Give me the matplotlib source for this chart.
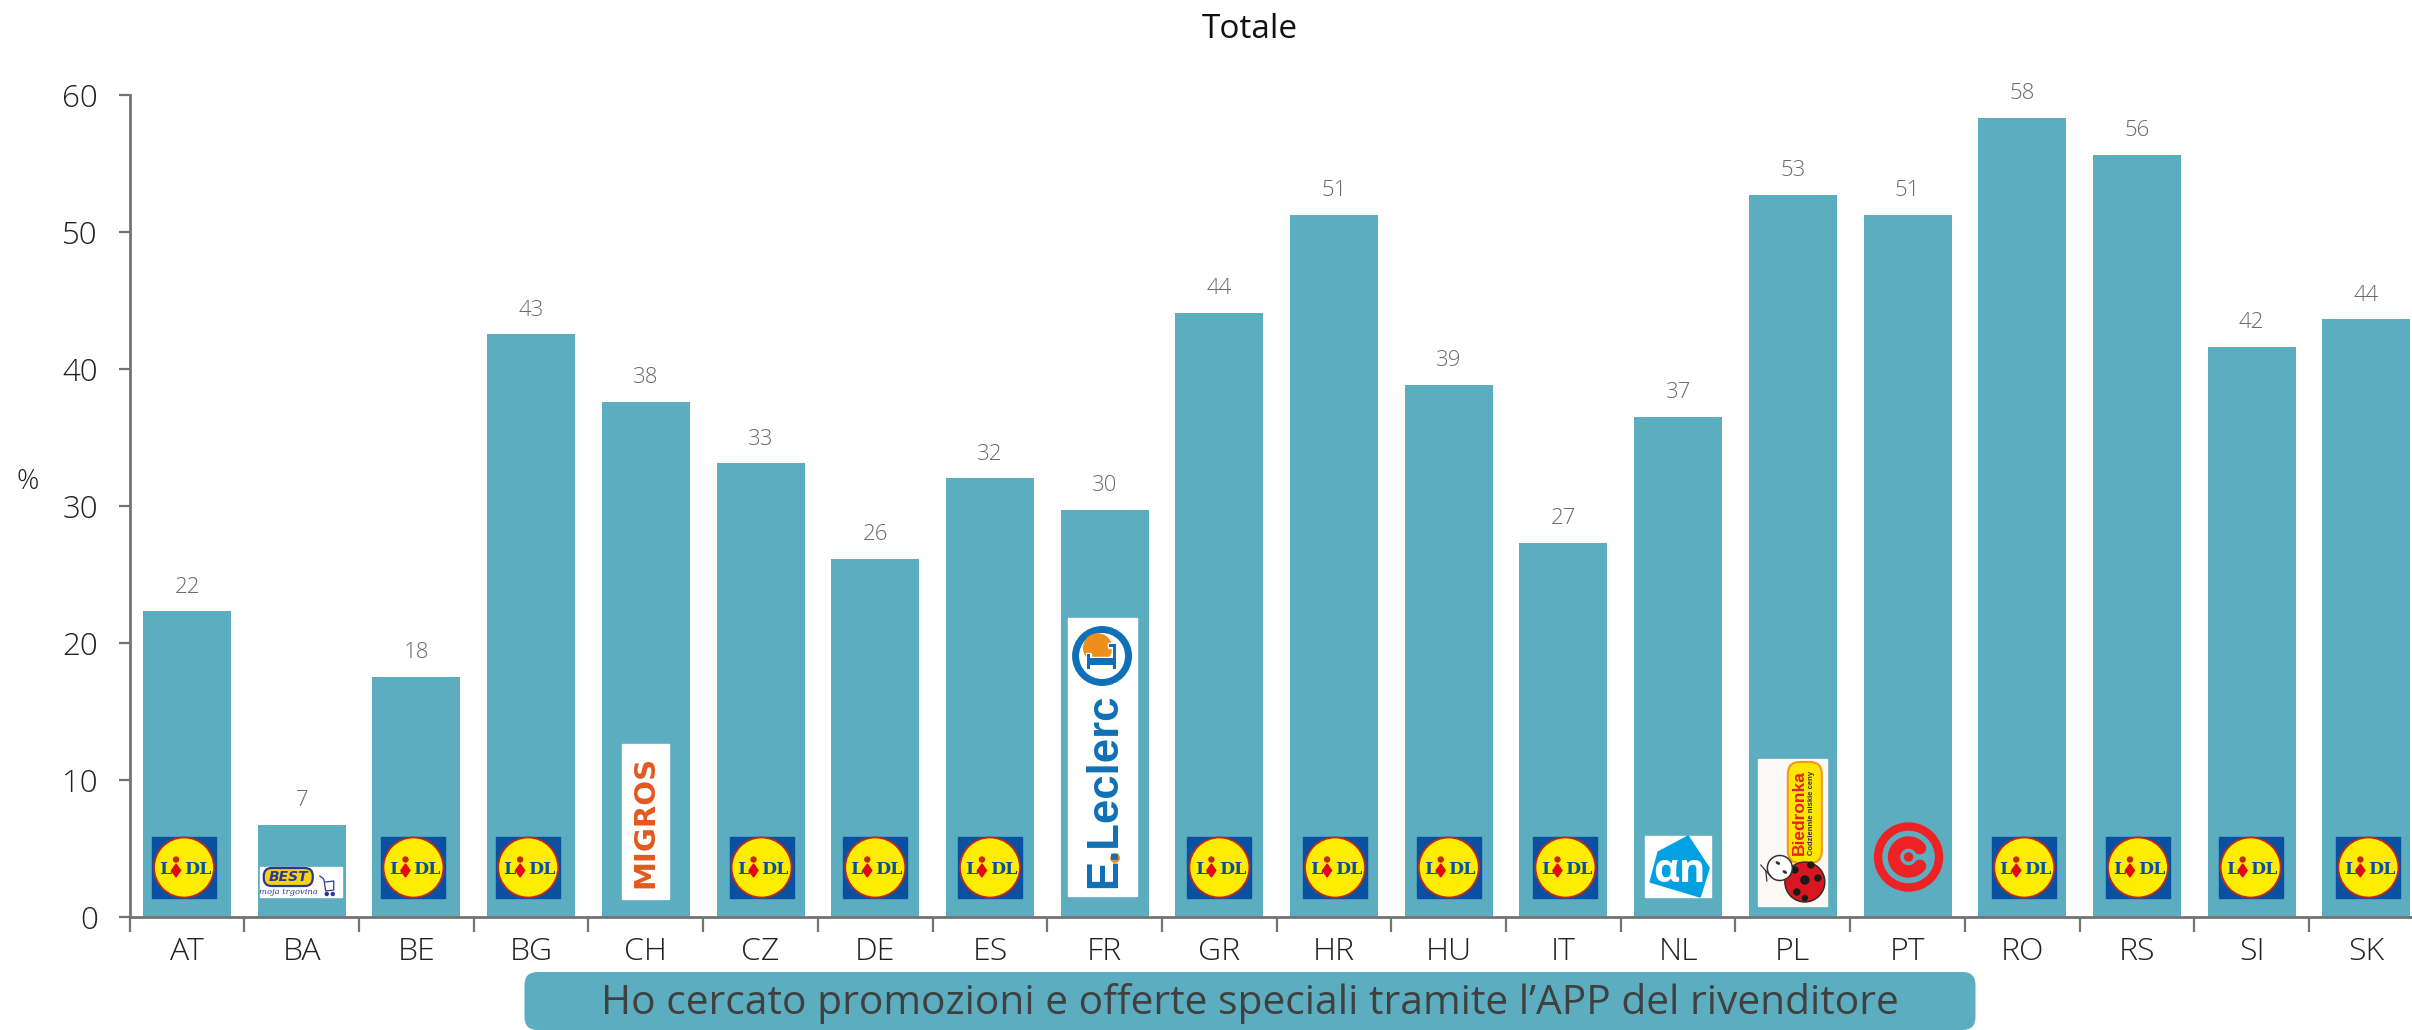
import matplotlib
matplotlib.use('Agg')
import matplotlib.pyplot as plt
import matplotlib.patheffects as pe
from matplotlib.patches import Rectangle, Ellipse, Circle, Wedge, Polygon, FancyBboxPatch
from matplotlib.transforms import Affine2D, IdentityTransform

plt.rcParams['font.family'] = ['Open Sans', 'DejaVu Sans']

countries = ['AT', 'BA', 'BE', 'BG', 'CH', 'CZ', 'DE', 'ES', 'FR', 'GR',
             'HR', 'HU', 'IT', 'NL', 'PL', 'PT', 'RO', 'RS', 'SI', 'SK']
values = [22.3, 6.7, 17.5, 42.5, 37.6, 33.1, 26.1, 32.0, 29.7, 44.1,
          51.2, 38.8, 27.3, 36.5, 52.7, 51.2, 58.3, 55.6, 41.6, 43.6]
value_labels = ['22', '7', '18', '43', '38', '33', '26', '32', '30', '44',
                '51', '39', '27', '37', '53', '51', '58', '56', '42', '44']
logos = ['lidl', 'best', 'lidl', 'lidl', 'migros', 'lidl', 'lidl', 'lidl', 'leclerc', 'lidl',
         'lidl', 'lidl', 'lidl', 'ah', 'biedronka', 'continente', 'lidl', 'lidl', 'lidl', 'lidl']
lidl_shift = [-3, 0, -3, -3, 0, 1, 0, 0, 0, 0, 1, 0, 2, 0, 0, 0, 2, 1, -1, 2]

title = 'Totale'
caption = 'Ho cercato promozioni e offerte speciali tramite l’APP del rivenditore'

TEAL = '#5badbf'
GREY = '#737373'
BLUE = '#0a50a1'
NAVY = '#2b3990'

W, H = 2412, 1030
fig = plt.figure(figsize=(W / 100, H / 100), dpi=100)
ax = fig.add_axes([129.7 / W, 113 / H, (W - 129.7) / W, 822.4 / H])

ax.bar(range(len(values)), values, width=0.767, color=TEAL)
ax.set_xlim(-0.5, 19.398)
ax.set_ylim(0, 60)

for s in ['top', 'right']:
    ax.spines[s].set_visible(False)
for s in ['left', 'bottom']:
    ax.spines[s].set_color(GREY)
    ax.spines[s].set_linewidth(2)

ax.set_yticks(range(0, 61, 10))
ax.tick_params(axis='y', length=8, width=1.6, color=GREY, pad=15, labelsize=22.5, labelcolor='#222222')
for t in ax.get_yticklabels():
    t.set_fontweight('light')

ax.set_xticks([i - 0.5 for i in range(len(values))])
ax.set_xticklabels([])
ax.set_xticks(range(len(values)), minor=True)
ax.set_xticklabels(countries, minor=True, fontsize=23, fontweight='light', color='#222222')
ax.tick_params(axis='x', which='major', length=11, width=1.6, color=GREY)
ax.tick_params(axis='x', which='minor', length=0, pad=14)

for i, v in enumerate(values):
    ax.annotate(value_labels[i], (i, v), xytext=(0, 17.5), textcoords='offset points',
                ha='center', va='center', fontsize=16, fontweight='light', color='#6a6a6a')


# logos are drawn in pixels, x from the bar centre and y up from the baseline
def anchor(i):
    return Affine2D().translate(*ax.transData.transform((i, 0)))


def draw_lidl(i):
    tr = anchor(i + lidl_shift[i] / 114.7)
    ax.add_patch(Rectangle((-32, 19), 64, 61, color=BLUE, transform=tr))
    ax.add_patch(Ellipse((0, 49.5), 60, 60, fc='#ffed00', ec='#c0281c', lw=1.3, transform=tr))
    kw = dict(transform=tr, family='DejaVu Serif', fontweight='bold', fontsize=12.5,
              color=BLUE, va='center_baseline')
    ax.text(-18.5, 49.5, 'L', ha='center', **kw)
    ax.text(13.5, 49.5, 'DL', ha='center', **kw)
    ax.add_patch(Polygon([(-8, 53), (-3.5, 46.5), (-8, 40), (-12.5, 46.5)], color='#e30613', transform=tr))
    ax.add_patch(Circle((-8, 57.5), 2.5, color='#c0281c', transform=tr))


def draw_best(i):
    tr = anchor(i)
    ax.add_patch(Rectangle((-42, 20), 82, 30, color='white', transform=tr))
    ax.add_patch(FancyBboxPatch((-30, 39), 33, 2, boxstyle='round,pad=8', fc='#f6d21a', ec=NAVY,
                                lw=1.6, transform=tr))
    ax.text(-13.5, 40, 'BEST', transform=tr, ha='center', va='center', fontsize=10,
            fontweight='bold', style='italic', color=NAVY, family='DejaVu Sans')
    ax.text(-13, 25, 'moja trgovina', transform=tr, ha='center', va='center', fontsize=6,
            style='italic', color=NAVY, family='DejaVu Serif')
    ax.plot([18, 22, 24, 32, 32, 24], [41, 38, 26, 27, 36, 35], color=NAVY, lw=0.9, transform=tr)
    ax.add_patch(Circle((25, 23), 1.5, color=NAVY, transform=tr))
    ax.add_patch(Circle((31, 23), 1.5, color=NAVY, transform=tr))


def draw_migros(i):
    tr = anchor(i)
    ax.add_patch(Rectangle((-24, 18), 47, 155, color='white', transform=tr))
    ax.text(0, 95.5, 'MIGROS', transform=tr, rotation=90, ha='center', va='center', fontsize=21,
            fontweight='bold', color='#e2591e', family='DejaVu Sans')


def draw_leclerc(i):
    tr = anchor(i)
    ax.add_patch(Rectangle((-36.6, 21), 69, 278, color='white', transform=tr))
    ax.add_patch(Circle((-2.6, 261), 26.5, fc='white', ec='#0f70b7', lw=5, transform=tr))
    ax.add_patch(Circle((-7, 269), 14, color='#ee8f1c', transform=tr))
    ax.text(0, 260, 'L', transform=tr, rotation=90, ha='center', va='center', fontsize=28,
            fontweight='bold', color='#0f70b7', family='DejaVu Serif',
            path_effects=[pe.withStroke(linewidth=2.5, foreground='white')])
    ax.text(0, 126.5, 'E.Leclerc', transform=tr, rotation=90, ha='center', va='center', fontsize=31.5,
            fontweight='bold', color='#0f70b7', family='Liberation Sans')
    ax.add_patch(Circle((10.4, 59), 4.2, color='#ee8f1c', transform=tr))


def draw_ah(i):
    tr = anchor(i)
    ax.add_patch(Rectangle((-33, 20), 66, 61, color='white', transform=tr))
    ax.add_patch(Polygon([(10, 81), (31, 49), (22, 20), (-28, 35), (-20, 65)],
                         closed=True, color='#00a0e2', transform=tr))
    ax.text(1, 50, 'αn', transform=tr, ha='center', va='center_baseline', fontsize=29,
            fontweight='bold', color='white', family='Open Sans')


def draw_biedronka(i):
    tr = anchor(i)
    ax.add_patch(Rectangle((-35, 11), 69, 147, color='#fbf8f6', transform=tr))
    ax.add_patch(FancyBboxPatch((7, 66), 10, 77, boxstyle='round,pad=12', fc='#ffe600',
                                ec='#f39a1e', lw=1.5, transform=tr))
    ax.text(7, 104, 'Biedronka', transform=tr, rotation=90, ha='center', va='center', fontsize=12.5,
            fontweight='bold', color='#e8202a', family='Liberation Sans')
    ax.text(19, 104, 'Codziennie niskie ceny', transform=tr, rotation=90, ha='center', va='center',
            fontsize=5.5, fontweight='bold', color='#333333', family='Liberation Sans')
    ax.add_patch(Circle((12, 35), 20, fc='#d9161f', ec='#2a2a2a', lw=1, transform=tr))
    for dx, dy, r in [(12, 37, 4), (25, 39, 3), (2, 47, 3), (18, 52, 3), (4, 25, 3), (12, 19, 2.5)]:
        ax.add_patch(Circle((dx, dy), r, color='#1a1a1a', transform=tr))
    ax.plot([-32, -27, -26], [52, 46, 36], color='#333333', lw=0.9, transform=tr)
    ax.plot([-27, -22], [46, 41], color='#333333', lw=0.9, transform=tr)
    ax.add_patch(Circle((-13, 49), 12.5, fc='white', ec='#333333', lw=1.1, transform=tr))
    ax.add_patch(Ellipse((-15, 54), 3.5, 1.5, angle=-30, color='#333333', transform=tr))
    ax.add_patch(Ellipse((-8, 45), 3.5, 1.5, angle=-30, color='#333333', transform=tr))


def draw_continente(i):
    tr = anchor(i)
    red = '#ee2125'
    ax.add_patch(Wedge((1, 60), 34, 0, 360, width=7, color=red, transform=tr))
    ax.add_patch(Wedge((1, 60), 20, 38, 322, width=11, color=red, transform=tr))
    ax.add_patch(Circle((12.4, 68.9), 5.5, color=red, transform=tr))
    ax.add_patch(Circle((12.4, 51.1), 5.5, color=red, transform=tr))
    ax.add_patch(Circle((1, 60), 4, color=red, transform=tr))


painters = {'lidl': draw_lidl, 'best': draw_best, 'migros': draw_migros, 'leclerc': draw_leclerc,
            'ah': draw_ah, 'biedronka': draw_biedronka, 'continente': draw_continente}
for i, name in enumerate(logos):
    painters[name](i)

fig.text(1250 / W, 1 - 30 / H, title, ha='center', va='center', fontsize=24, color='#111111')
fig.text(28 / W, 1 - 482 / H, '%', ha='center', va='center', fontsize=20, fontweight='light', color='#222222')

box = FancyBboxPatch((524.5, 0), 1451, 58, boxstyle='round,pad=0,rounding_size=13',
                     fc=TEAL, ec='none', transform=IdentityTransform())
fig.add_artist(box)
fig.text(1250 / W, 27 / H, caption, ha='center', va='center', fontsize=29.3, color='#404040')

fig.savefig('out.png', dpi=100)
